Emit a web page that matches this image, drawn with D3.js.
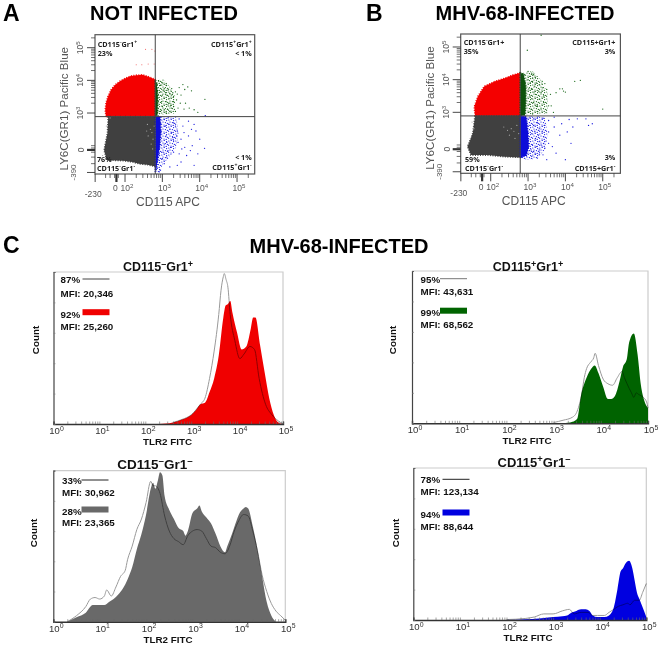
<!DOCTYPE html>
<html>
<head>
<meta charset="utf-8">
<script src="https://cdnjs.cloudflare.com/ajax/libs/d3/7.8.5/d3.min.js"></script>
<style>
  html, body { margin: 0; padding: 0; background: #fff; }
  svg { display: block; font-family: "Liberation Sans", Arial, sans-serif; }
  .q { font-family: "Open Sans", sans-serif; font-weight: 700; font-size: 7.2px; fill: #222; }
  .big { font-weight: 700; font-size: 20px; fill: #000; }
  .gray { fill: #555; }
  .leg { font-weight: 700; font-size: 9.8px; fill: #111; }
</style>
</head>
<body>
<div id="chart"></div>
<script>
// ---- scatter data, axes are in decades of the biexponential display ----
const xMajor = [1.2, 1.77, 2, 3, 4, 5];
const yMajor = [1.18, 1.87, 3, 4, 5];
const xLow = [1.48, 1.6, 1.72, 1.82];
const yLow = [1.45, 1.65, 1.8, 1.93, 2.0];
const minorSteps = [2, 3, 4, 5, 6, 7, 8, 9];

const aRedBlob = [[1.49,2.89],[1.47,3.09],[1.49,3.3],[1.54,3.5],[1.62,3.7],[1.73,3.86],[1.87,3.98],[2.0,4.06],[2.15,4.13],[2.31,4.16],[2.47,4.17],[2.63,4.11],[2.81,4.03],[2.81,2.89]];
const aGrayBlob = [[1.55,2.89],[1.53,2.38],[1.48,2.1],[1.44,1.87],[1.51,1.56],[1.75,1.55],[1.96,1.54],[2.2,1.5],[2.4,1.44],[2.6,1.42],[2.81,1.36],[2.81,2.89]];
const aGreenCore = [[2.81,4.0],[2.85,3.9],[2.88,3.5],[2.87,2.95],[2.81,2.89]];
const aBlueCore = [[2.81,2.89],[2.94,2.89],[2.96,2.4],[2.93,2.0],[2.88,1.6],[2.84,1.3],[2.81,1.2]];
const aGreenMid = [[2.81,4.0],[3.03,4.04],[3.2,3.81],[3.34,3.5],[3.34,2.99],[2.81,2.91]];
const aBlueMid = [[2.81,2.87],[3.38,2.87],[3.43,2.38],[3.38,1.97],[3.2,1.66],[3.03,1.46],[2.89,1.15],[2.81,1.15]];
const aGreen = [[2.9,3.98],[2.95,3.85],[3.0,3.92],[3.05,3.75],[3.1,3.85],[3.15,3.7],[3.2,3.6],[3.25,3.75],[3.3,3.5],[3.35,3.65],[3.38,3.4],[3.45,3.78],[3.55,3.87],[3.6,3.72],[3.68,3.8],[3.78,3.68],[3.5,3.55],[3.62,3.3],[3.72,3.15],[3.85,3.1],[4.14,3.42],[3.95,3.02],[3.42,3.15],[3.3,3.2],[3.2,3.3],[2.95,3.65],[3.0,3.55],[3.05,3.45],[3.1,3.35],[3.15,3.25],[3.0,3.2],[3.05,3.1],[3.1,3.0],[3.2,3.05],[3.25,3.15],[3.3,3.35],[3.35,3.05],[2.95,3.05],[2.98,3.35],[3.02,3.7],[3.12,3.55],[3.18,3.45],[3.24,3.55],[3.28,3.62],[3.08,3.62],[3.14,3.12],[3.22,3.22],[3.4,3.58],[3.48,3.3],[3.58,3.12]];
const aBlue = [[3.05,2.8],[3.15,2.85],[3.3,2.7],[3.45,2.82],[3.55,2.6],[3.7,2.75],[3.85,2.65],[3.9,2.45],[4.0,2.2],[4.13,1.92],[3.8,2.0],[3.7,2.3],[3.6,1.95],[3.5,2.2],[3.4,2.45],[3.3,2.15],[3.2,2.5],[3.1,2.3],[3.05,2.05],[3.15,1.85],[3.3,1.8],[3.45,1.75],[3.65,1.7],[3.85,1.4],[3.4,1.4],[3.2,1.35],[3.0,1.6],[3.05,1.45],[3.12,1.65],[3.02,1.8],[3.08,2.6],[3.18,2.65],[3.25,2.4],[3.35,2.6],[3.42,2.1],[3.52,1.9],[3.12,2.1],[3.22,1.95],[3.28,2.25],[3.38,2.3],[3.58,2.4],[3.78,2.5],[4.15,2.92],[3.95,1.75],[3.75,1.85],[2.95,1.25],[2.92,1.2],[3.5,1.5]];
const aSpeck = [[2.6,2.65],[2.68,2.5],[2.72,2.4],[2.62,2.3],[2.75,2.2],[2.7,2.05],[2.58,2.45],[2.78,2.6],[2.74,1.9],[1.5,2.6],[1.6,2.85],[1.4,1.7]];
const aRedFar = [[2.55,4.95],[2.72,4.95],[2.3,4.48],[2.45,4.48],[2.62,4.5],[2.78,4.5],[2.8,4.9]];

const bRedBlob = [[1.58,2.89],[1.56,3.17],[1.65,3.48],[1.83,3.8],[1.95,3.86],[2.1,3.94],[2.37,4.04],[2.59,4.14],[2.79,4.21],[2.79,2.89]];
const bGrayBlob = [[1.58,2.89],[1.52,2.36],[1.45,2.15],[1.38,1.95],[1.47,1.69],[1.92,1.69],[2.37,1.64],[2.79,1.62],[2.79,2.89]];
const bGreenCore = [[2.79,4.21],[2.88,4.17],[2.94,3.79],[2.94,3.28],[2.92,2.92],[2.79,2.89]];
const bBlueCore = [[2.79,2.89],[2.95,2.87],[3.0,2.36],[3.02,1.95],[2.95,1.67],[2.79,1.62]];
const bGreenMid = [[2.79,4.22],[3.13,4.26],[3.35,3.99],[3.53,3.58],[3.53,2.97],[2.79,2.92]];
const bBlueMid = [[2.79,2.87],[3.44,2.87],[3.53,2.36],[3.44,1.85],[3.26,1.59],[2.99,1.54],[2.79,1.62]];
const bGreen = [[3.0,4.25],[3.1,4.2],[3.15,4.15],[3.2,4.05],[3.05,4.1],[3.12,3.95],[3.22,3.9],[3.3,3.85],[3.38,3.95],[3.5,3.7],[3.6,3.55],[3.75,3.6],[3.85,3.72],[3.92,3.72],[4.0,3.62],[4.25,3.95],[4.4,3.98],[5.0,3.1],[3.05,3.5],[3.1,3.7],[3.15,3.3],[3.2,3.55],[3.25,3.2],[3.3,3.4],[3.35,3.1],[3.42,3.3],[3.48,3.0],[3.55,3.2],[3.08,3.1],[3.02,3.0],[3.12,2.95],[3.18,3.8],[3.28,3.65],[3.35,3.6],[3.42,3.5],[3.06,3.9],[3.04,3.25],[3.1,3.42],[3.16,3.62],[3.22,3.18],[3.26,3.02],[3.38,3.75],[3.02,3.72],[3.12,4.05],[3.62,3.2],[3.68,3.0],[3.95,3.65],[3.45,3.88],[2.98,4.9],[3.35,5.36],[3.0,4.0]];
const bBlue = [[3.05,2.85],[3.15,2.8],[3.25,2.85],[3.4,2.82],[3.55,2.75],[3.7,2.85],[3.9,2.65],[4.1,2.78],[4.2,2.55],[4.32,2.8],[4.55,2.8],[4.62,2.6],[4.72,2.65],[4.05,2.4],[3.85,2.3],[3.7,2.55],[3.55,2.4],[3.45,2.6],[3.3,2.5],[3.15,2.6],[3.1,2.35],[3.2,2.2],[3.3,2.1],[3.42,2.25],[3.55,2.05],[3.65,1.95],[3.45,1.9],[3.3,1.85],[3.15,1.8],[3.1,1.65],[3.25,1.6],[3.4,1.7],[3.5,1.55],[3.12,2.0],[3.22,1.95],[3.18,2.42],[3.28,2.3],[3.38,2.42],[3.48,2.12],[3.08,1.85],[3.35,2.0],[3.2,1.72],[3.3,1.72],[3.42,2.05],[3.05,2.6],[3.25,2.68],[4.0,1.55],[3.75,1.75],[4.15,2.05]];
const bSpeck = [[2.35,2.55],[2.45,2.45],[2.55,2.5],[2.62,2.42],[2.7,2.6],[2.75,2.35],[2.5,2.3],[2.65,2.2],[1.5,2.7],[1.55,2.5],[1.45,2.2]];

// ---- histogram data, exponent of TLR2 FITC and percent of modal count ----
const redExp = [2.3,2.6,2.8,3.0,3.1,3.2,3.3,3.4,3.5,3.6,3.7,3.75,3.8,3.85,3.9,4.0,4.1,4.2,4.3,4.35,4.4,4.5,4.6,4.7,4.8,4.9,5];
const redCount = [0,1,3,6,9,13,14,21,30,45,70,78,79,81,73,60,49,51,63,70,70,52,34,17,6,1,0];
const redRefExp = [2.6,2.8,3.0,3.2,3.3,3.4,3.5,3.6,3.65,3.7,3.72,3.76,3.8,3.85,3.95,4.06,4.15,4.28,4.38,4.48,4.62,4.76,4.9,5];
const redRefCount = [1,3,6,13,17,30,48,72,88,97,99,95,90,72,55,43,46,51,49,30,13,6,2,0];

const greenExp = [3.2,3.4,3.5,3.58,3.7,3.8,3.87,3.95,4.05,4.15,4.22,4.3,4.4,4.47,4.55,4.6,4.7,4.78,4.85,4.92,5];
const greenCount = [0,1,3,18,30,36,38,33,24,16,16,18,28,37,42,53,59,45,25,15,10];
const greenRefExp = [3.0,3.2,3.4,3.5,3.6,3.65,3.7,3.78,3.85,3.88,3.95,4.05,4.15,4.25,4.35,4.45,4.5,4.6,4.65,4.7,4.75,4.8,4.9,4.97,5];
const greenRefCount = [0.5,2,4,8,20,30,36,40,43,46,38,29,26,25,30,34,30,23,20,17,20,19,17,14,10];

const grayExp = [0.3,0.5,0.7,0.85,1.0,1.1,1.2,1.3,1.4,1.5,1.6,1.7,1.8,1.9,2.0,2.1,2.15,2.2,2.25,2.3,2.35,2.4,2.5,2.6,2.7,2.8,2.85,2.9,3.0,3.1,3.15,3.2,3.3,3.4,3.5,3.6,3.7,3.75,3.85,3.95,4.0,4.1,4.15,4.2,4.3,4.4,4.5,4.6,4.7,4.8];
const grayCount = [0,3,6,11,11,11,13,15,18,22,28,36,48,58,71,88,92,88,93,99,97,83,74,68,62,60,57,60,72,75,77,73,69,65,58,50,46,50,58,67,71,75,76,75,63,48,30,13,4,0];
const grayRefExp = [0.3,0.5,0.7,0.8,0.9,1.0,1.1,1.15,1.25,1.35,1.45,1.55,1.6,1.7,1.8,1.9,2.0,2.1,2.15,2.2,2.3,2.4,2.5,2.6,2.7,2.8,2.9,3.0,3.1,3.2,3.3,3.4,3.5,3.6,3.7,3.8,3.9,4.0,4.1,4.2,4.3,4.4,4.5,4.6,4.7,4.8,4.9,5];
const grayRefCount = [0,4,10,15,16,15,17,21,17,23,30,34,41,50,61,68,79,93,90,90,85,70,60,55,53,51,57,60,61,60,55,50,49,46,45,50,60,67,71,70,60,47,31,20,12,7,4,1];

const blueExp = [2.0,2.4,2.7,3.0,3.2,3.3,3.4,3.5,3.6,3.7,3.78,3.85,3.95,4.1,4.2,4.3,4.38,4.45,4.5,4.55,4.63,4.7,4.75,4.8,4.85,4.9,5];
const blueCount = [0,0.5,1,2,2.5,3,5,6,7,7,6,3,2,2,3,8,20,32,34,37,39,34,26,18,14,10,2];
const blueRefExp = [2.0,2.4,2.6,2.8,3.0,3.2,3.35,3.45,3.6,3.75,3.85,3.95,4.1,4.2,4.3,4.4,4.5,4.6,4.65,4.75,4.85,4.92,5];
const blueRefCount = [0.3,1,2,4,4,6,7,4,5,5,3,3,3,5,7,9,10,11,10,13,13,18,24];

const decadeTicks = [0, 1, 2, 3, 4, 5];

const svg = d3.select('#chart').append('svg').attr('width', 662).attr('height', 651);
const defs = svg.append('defs');
defs.append('filter').attr('id', 'soft').append('feGaussianBlur').attr('stdDeviation', 0.35);

// speckle fill for the thinning part of the clouds
function speckle(id, color) {
  const tile = defs.append('pattern').attr('id', id).attr('patternUnits', 'userSpaceOnUse').attr('width', 7).attr('height', 7);
  [[0.8,1],[3.2,0.4],[5.6,1.6],[2,3],[4.4,3.6],[6.4,4.4],[0.6,5.2],[3,6],[5.2,6.4]].forEach(t => {
    tile.append('circle').attr('cx', t[0]).attr('cy', t[1]).attr('r', 0.62).attr('fill', color);
  });
}
speckle('speckGreen', '#0e5e0e');
speckle('speckBlue', '#1212e0');

// writes "^x" as a raised character
function rich(sel, str, size) {
  const parts = str.split(/\^(.)/);
  parts.forEach((p, i) => {
    if (p === '') return;
    const up = i % 2 === 1;
    const after = i > 0 && (i - 1) % 2 === 1;
    sel.append('tspan').text(p)
      .attr('dy', up ? -0.36 * size : (after ? 0.36 * size : 0))
      .style('font-size', up ? (0.72 * size) + 'px' : null);
  });
  return sel;
}

function scatter(p) {
  const g = svg.append('g');
  const x = d3.scaleLinear().domain([1.196, 5.473]).range([p.left, p.left + 159.7]);
  const y = d3.scaleLinear().domain([1.133, 5.398]).range([p.top + 139.3, p.top]);
  const line = d3.line().x(d => x(d[0])).y(d => y(d[1]));
  const gx = x(p.gateX), gy = y(p.gateY);

  const marks = g.append('g').attr('filter', 'url(#soft)');
  marks.append('path').attr('d', line(p.greenMid) + 'Z').attr('fill', 'url(#speckGreen)');
  marks.append('path').attr('d', line(p.blueMid) + 'Z').attr('fill', 'url(#speckBlue)');
  const blob = (pts, c) => marks.append('path').attr('d', line(pts) + 'Z').attr('fill', c)
    .attr('stroke', c).attr('stroke-width', 1.6).attr('stroke-dasharray', '1 1.5');
  blob(p.red, '#f40000');
  blob(p.gray, '#3f3f3f');
  blob(p.greenCore, '#0c520c');
  blob(p.blueCore, '#0808d8');

  const dots = (pts, c, r) => marks.append('g').selectAll('circle').data(pts).enter().append('circle')
    .attr('cx', d => x(d[0])).attr('cy', d => y(d[1])).attr('r', r).attr('fill', c);
  dots(p.green, '#146414', 0.65);
  dots(p.blue, '#1a1ae0', 0.65);
  dots(p.speck, '#a8a8a8', 0.6);
  dots(p.redFar, '#f06060', 0.55);

  // frame and gates
  g.append('rect').attr('x', x.range()[0]).attr('y', y.range()[1]).attr('width', 159.7).attr('height', 139.3)
    .attr('fill', 'none').attr('stroke', '#555').attr('stroke-width', 1.2);
  g.append('line').attr('x1', gx).attr('x2', gx).attr('y1', y.range()[1]).attr('y2', y.range()[0]).attr('stroke', '#444');
  g.append('line').attr('x1', x.range()[0]).attr('x2', x.range()[1]).attr('y1', gy).attr('y2', gy).attr('stroke', '#444');

  // x ticks
  const b = y.range()[0], l = x.range()[0];
  const xMinor = xLow.concat(d3.merge([2, 3, 4, 5].map(e => minorSteps.map(k => e + Math.log10(k))))).filter(v => v < 5.47);
  g.append('g').selectAll('line').data(xMinor).enter().append('line')
    .attr('x1', d => x(d)).attr('x2', d => x(d)).attr('y1', b).attr('y2', b + 4).attr('stroke', '#333').attr('stroke-width', 0.7);
  g.append('g').selectAll('line').data(xMajor).enter().append('line')
    .attr('x1', d => x(d)).attr('x2', d => x(d)).attr('y1', b).attr('y2', b + 8).attr('stroke', '#333')
    .attr('stroke-width', d => d === 1.77 ? 2.2 : 0.9);
  // y ticks
  const yMinor = yLow.concat(d3.merge([3, 4, 5].map(e => minorSteps.map(k => e + Math.log10(k))))).filter(v => v < 5.39);
  g.append('g').selectAll('line').data(yMinor).enter().append('line')
    .attr('y1', d => y(d)).attr('y2', d => y(d)).attr('x1', l).attr('x2', l - 4).attr('stroke', '#333').attr('stroke-width', 0.7);
  g.append('g').selectAll('line').data(yMajor).enter().append('line')
    .attr('y1', d => y(d)).attr('y2', d => y(d)).attr('x1', l).attr('x2', l - 8).attr('stroke', '#333')
    .attr('stroke-width', d => d === 1.87 ? 2.2 : 0.9);

  // tick labels
  g.append('text').attr('class', 'gray').attr('x', x(1.2) - 2).attr('y', b + 23).attr('text-anchor', 'middle').style('font-size', '8.5px').text('-230');
  g.append('text').attr('class', 'gray').attr('x', x(1.77) - 1).attr('y', b + 17).attr('text-anchor', 'middle').style('font-size', '8.5px').text('0');
  [2, 3, 4, 5].forEach(e => {
    const t = g.append('text').attr('class', 'gray').attr('x', x(e) + 2).attr('y', b + 17).attr('text-anchor', 'middle').style('font-size', '8.5px');
    rich(t, '10^' + e, 8.5);
  });
  const rot = (v, s, dx, size) => {
    const t = g.append('text').attr('class', 'gray').attr('text-anchor', 'middle').style('font-size', size + 'px')
      .attr('transform', `translate(${l - dx},${y(v)}) rotate(-90)`);
    rich(t, s, size);
  };
  rot(3, '10^3', 12, 8.5); rot(4, '10^4', 12, 8.5); rot(5, '10^5', 12, 8.5);
  rot(1.87, '0', 11, 8.5); rot(1.18, '-390', 19, 8);

  // axis titles
  g.append('text').attr('class', 'gray').attr('x', p.left + 73).attr('y', b + 32).attr('text-anchor', 'middle').style('font-size', '12px').text('CD115 APC');
  g.append('text').attr('class', 'gray').attr('text-anchor', 'middle').style('font-size', '11.6px')
    .attr('transform', `translate(${p.left - 27},${p.top + 74}) rotate(-90)`).text('LY6C(GR1) Pacific Blue');

  // quadrant labels
  p.labels.forEach(q => {
    const t = g.append('text').attr('class', 'q').attr('x', p.left + q[0]).attr('y', q[1]).attr('text-anchor', q[3] || 'start');
    rich(t, q[2], 7.2);
  });
}

function histogram(p) {
  const g = svg.append('g');
  const x = d3.scaleLog().domain([1, 1e5]).range([p.left, p.right]);
  const y = d3.scaleLinear().domain([0, 100]).range([p.bottom, p.top]);
  const toPts = (ex, ct) => ex.map((e, i) => [Math.pow(10, e), ct[i]]);

  g.append('path').attr('d', `M${p.left},${p.top}H${p.right}V${p.bottom}`).attr('fill', 'none').attr('stroke', '#ccc').attr('stroke-width', 1.2);

  g.append('path').attr('filter', 'url(#soft)')
    .attr('d', d3.area().curve(d3.curveMonotoneX).x(d => x(d[0])).y0(p.bottom).y1(d => y(d[1]))(toPts(p.exp, p.count)))
    .attr('fill', p.color);
  g.append('path').attr('filter', 'url(#soft)')
    .attr('d', d3.line().curve(d3.curveMonotoneX).x(d => x(d[0])).y(d => y(d[1]))(toPts(p.refExp, p.refCount)))
    .attr('fill', 'none').attr('stroke', '#999').attr('stroke-width', 1).style('mix-blend-mode', 'multiply');

  const xAxis = g.append('g').attr('transform', `translate(0,${p.bottom})`)
    .call(d3.axisBottom(x).tickSize(-2.5).tickFormat(''));
  xAxis.select('.domain').attr('stroke', '#333').attr('stroke-width', 1.4);
  xAxis.selectAll('.tick line').attr('stroke', '#666').attr('stroke-width', 0.6);
  const yAxis = g.append('g').attr('transform', `translate(${p.left},0)`)
    .call(d3.axisLeft(y).ticks(5).tickSize(-2).tickFormat(''));
  yAxis.select('.domain').attr('stroke', '#444').attr('stroke-width', 1.2);
  yAxis.selectAll('.tick line').attr('stroke', '#777').attr('stroke-width', 0.6);

  decadeTicks.forEach(e => {
    const t = g.append('text').attr('x', x(Math.pow(10, e)) + 3).attr('y', p.bottom + 10).attr('text-anchor', 'middle')
      .style('font-size', '9.6px').attr('fill', '#333');
    rich(t, '10^' + e, 9.6);
  });
  g.append('text').attr('class', 'leg').attr('x', p.xLabel).attr('y', p.bottom + 21).attr('text-anchor', 'middle').text('TLR2 FITC');
  g.append('text').attr('class', 'leg').attr('text-anchor', 'middle')
    .attr('transform', `translate(${p.countX},${p.countY}) rotate(-90)`).text('Count');

  const title = g.append('text').attr('x', p.titleX).attr('y', p.titleY).attr('text-anchor', 'middle')
    .style('font-size', p.titleSize + 'px').style('font-weight', 700).attr('fill', '#111');
  rich(title, p.title, p.titleSize);

  // legend
  const o = p.legOffsets;
  g.append('text').attr('class', 'leg').attr('x', p.legX).attr('y', p.legY).text(p.refPct);
  g.append('text').attr('class', 'leg').attr('x', p.legX).attr('y', p.legY + o[0]).text(p.refMfi);
  g.append('text').attr('class', 'leg').attr('x', p.legX).attr('y', p.legY + o[1]).text(p.pct);
  g.append('text').attr('class', 'leg').attr('x', p.legX).attr('y', p.legY + o[2]).text(p.mfi);
  g.append('line').attr('x1', p.legX + p.swatchDx).attr('x2', p.legX + p.swatchDx + 27).attr('y1', p.legY - 4).attr('y2', p.legY - 4)
    .attr('stroke', p.refStroke).attr('stroke-width', 1);
  g.append('rect').attr('x', p.legX + p.swatchDx).attr('y', p.legY + o[1] - 8.5).attr('width', 27).attr('height', 6).attr('fill', p.color);
}

const big = (s, xp, yp, anchor) => svg.append('text').attr('class', 'big').attr('x', xp).attr('y', yp).attr('text-anchor', anchor || 'middle').text(s);
big('NOT INFECTED', 164, 19.5);
big('MHV-68-INFECTED', 525, 19.5);
big('MHV-68-INFECTED', 339, 253);
big('A', 3, 21, 'start').style('font-size', '23px');
big('B', 366, 21, 'start').style('font-size', '23px');
big('C', 3, 253, 'start').style('font-size', '23px');

scatter({
  left: 95, top: 34.7, gateX: 2.81, gateY: 2.89,
  red: aRedBlob, gray: aGrayBlob, greenCore: aGreenCore, blueCore: aBlueCore, greenMid: aGreenMid, blueMid: aBlueMid,
  green: aGreen, blue: aBlue, speck: aSpeck, redFar: aRedFar,
  labels: [[2.7, 47, 'CD115^-Gr1^+'], [2.7, 55.5, '23%'], [156.7, 47, 'CD115^+Gr1^+', 'end'], [156.7, 55.5, '< 1%', 'end'],
    [2, 162, '76%'], [2, 171, 'CD115^-Gr1^-'], [156.7, 160, '< 1%', 'end'], [156.7, 170, 'CD115^+Gr1^-', 'end']]
});
scatter({
  left: 460.7, top: 34, gateX: 2.79, gateY: 2.89,
  red: bRedBlob, gray: bGrayBlob, greenCore: bGreenCore, blueCore: bBlueCore, greenMid: bGreenMid, blueMid: bBlueMid,
  green: bGreen, blue: bBlue, speck: bSpeck, redFar: [],
  labels: [[3, 45, 'CD115^-Gr1+'], [3, 53.5, '35%'], [154.6, 45, 'CD115+Gr1+', 'end'], [154.6, 54, '3%', 'end'],
    [4.3, 162, '59%'], [4.3, 170.5, 'CD115^-Gr1^-'], [154.6, 160, '3%', 'end'], [154.6, 170.5, 'CD115+Gr1^-', 'end']]
});

histogram({
  left: 53.5, right: 283, top: 272, bottom: 424, color: '#f00000',
  exp: redExp, count: redCount, refExp: redRefExp, refCount: redRefCount,
  title: 'CD115^–Gr1^+', titleX: 158, titleY: 271, titleSize: 12.5, xLabel: 167.5, countX: 39, countY: 340,
  legX: 60.5, legY: 283, legOffsets: [14, 34.7, 47], refPct: '87%', refMfi: 'MFI: 20,346', pct: '92%', mfi: 'MFI: 25,260', swatchDx: 22, refStroke: '#444'
});
histogram({
  left: 412, right: 648, top: 271, bottom: 423.3, color: '#006400',
  exp: greenExp, count: greenCount, refExp: greenRefExp, refCount: greenRefCount,
  title: 'CD115^+Gr1^+', titleX: 528, titleY: 271, titleSize: 12.5, xLabel: 527, countX: 396, countY: 340,
  legX: 420.5, legY: 282.7, legOffsets: [12.5, 33.5, 45], refPct: '95%', refMfi: 'MFI: 43,631', pct: '99%', mfi: 'MFI: 68,562', swatchDx: 19.5, refStroke: '#777'
});
histogram({
  left: 53.3, right: 285.3, top: 470.7, bottom: 621.7, color: '#696969',
  exp: grayExp, count: grayCount, refExp: grayRefExp, refCount: grayRefCount,
  title: 'CD115^–Gr1^–', titleX: 155, titleY: 469, titleSize: 13.5, xLabel: 168, countX: 37, countY: 533,
  legX: 62, legY: 484, legOffsets: [12, 31, 42], refPct: '33%', refMfi: 'MFI: 30,962', pct: '28%', mfi: 'MFI: 23,365', swatchDx: 19.5, refStroke: '#222'
});
histogram({
  left: 413.3, right: 646.3, top: 468, bottom: 620, color: '#0000e0',
  exp: blueExp, count: blueCount, refExp: blueRefExp, refCount: blueRefCount,
  title: 'CD115^+Gr1^–', titleX: 534, titleY: 467, titleSize: 13, xLabel: 528, countX: 399, countY: 533,
  legX: 420.5, legY: 483.3, legOffsets: [12, 34.7, 47], refPct: '78%', refMfi: 'MFI: 123,134', pct: '94%', mfi: 'MFI: 88,644', swatchDx: 22, refStroke: '#222'
});
</script>
</body>
</html>
